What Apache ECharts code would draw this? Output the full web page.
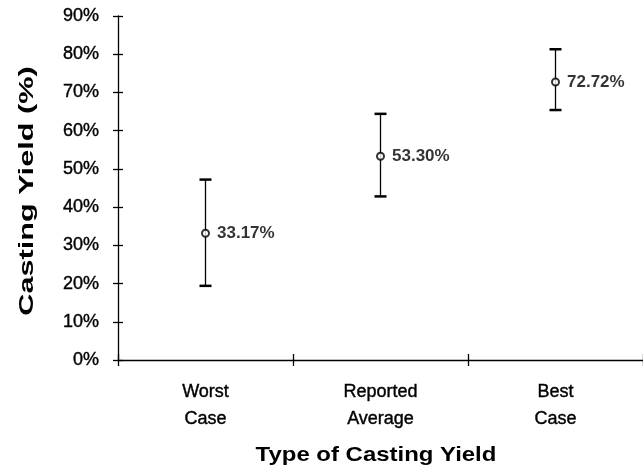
<!DOCTYPE html>
<html><head><meta charset="utf-8">
<script src="https://cdn.jsdelivr.net/npm/echarts@6/dist/echarts.min.js"></script>
<style>html,body{margin:0;padding:0;background:#fff}#c{width:643px;height:475px}</style>
</head><body><div id="c"></div>
<script>
const categories = ['Worst\nCase', 'Reported\nAverage', 'Best\nCase'];
const meanValues = [33.17, 53.30, 72.72];
const highValues = [47.2, 64.4, 81.3];
const lowValues = [19.4, 42.8, 65.4];
const xTitle = 'Type of Casting Yield';
const yTitle = 'Casting Yield (%)';

const chart = echarts.init(document.getElementById('c'));
const font = '"Liberation Sans", Arial, sans-serif';
const axisStyle = {color: '#000', width: 1.3};
const baseX = {
  type: 'category', data: categories, boundaryGap: true, position: 'bottom'
};
const baseY = {type: 'value', min: 0, max: 90, interval: 10, position: 'left', splitLine: {show: false}};
chart.setOption({
  animation: false,
  grid: {left: 118, right: 0, top: 16, bottom: 115},
  xAxis: [
    Object.assign({}, baseX, {
      axisLine: {lineStyle: axisStyle},
      axisTick: {show: true, length: 6, lineStyle: axisStyle},
      axisLabel: {color: '#000', fontFamily: font, fontSize: 18, lineHeight: 27, margin: 19,
        textBorderColor: '#000', textBorderWidth: 0.4}
    }),
    Object.assign({}, baseX, {
      axisLine: {show: false},
      axisTick: {show: true, inside: true, length: 6, lineStyle: axisStyle},
      axisLabel: {show: false}
    })
  ],
  yAxis: [
    Object.assign({}, baseY, {
      axisLine: {show: true, lineStyle: axisStyle},
      axisTick: {show: true, length: 5, lineStyle: axisStyle},
      axisLabel: {color: '#000', fontFamily: font, fontSize: 18, margin: 19, formatter: v => v + '%',
        textBorderColor: '#000', textBorderWidth: 0.4}
    }),
    Object.assign({}, baseY, {
      axisLine: {show: false},
      axisTick: {show: true, inside: true, length: 5, lineStyle: axisStyle},
      axisLabel: {show: false}
    })
  ],
  graphic: [
    {type: 'text', x: 376, y: 455, scaleX: 1.14, z: 10,
      style: {text: xTitle, fill: '#000', font: 'bold 21px ' + font, textAlign: 'center', textVerticalAlign: 'middle'}},
    {type: 'text', x: 27, y: 191, rotation: Math.PI / 2, scaleX: 1.46, z: 10,
      style: {text: yTitle, fill: '#000', font: 'bold 21px ' + font, textAlign: 'center', textVerticalAlign: 'middle'}}
  ],
  series: [
    {
      type: 'custom',
      data: categories.map((c, i) => [i, lowValues[i], highValues[i]]),
      renderItem: function (params, api) {
        const lo = api.coord([api.value(0), api.value(1)]);
        const hi = api.coord([api.value(0), api.value(2)]);
        const w = 6;
        return {type: 'group', children: [
          {type: 'line', shape: {x1: hi[0], y1: hi[1], x2: lo[0], y2: lo[1]}, style: {stroke: '#000', lineWidth: 1.3}},
          {type: 'line', shape: {x1: hi[0] - w, y1: hi[1], x2: hi[0] + w, y2: hi[1]}, style: {stroke: '#000', lineWidth: 2.5}},
          {type: 'line', shape: {x1: lo[0] - w, y1: lo[1], x2: lo[0] + w, y2: lo[1]}, style: {stroke: '#000', lineWidth: 2.5}}
        ]};
      },
      z: 1
    },
    {
      type: 'scatter',
      data: meanValues,
      symbol: 'circle', symbolSize: 7,
      itemStyle: {color: '#fff', borderColor: '#000', borderWidth: 2},
      label: {show: true, position: 'right', distance: 7, color: '#000', fontFamily: font, fontSize: 17, fontWeight: 'bold',
        formatter: p => p.value.toFixed(2) + '%'},
      z: 3
    }
  ]
});
</script></body></html>
